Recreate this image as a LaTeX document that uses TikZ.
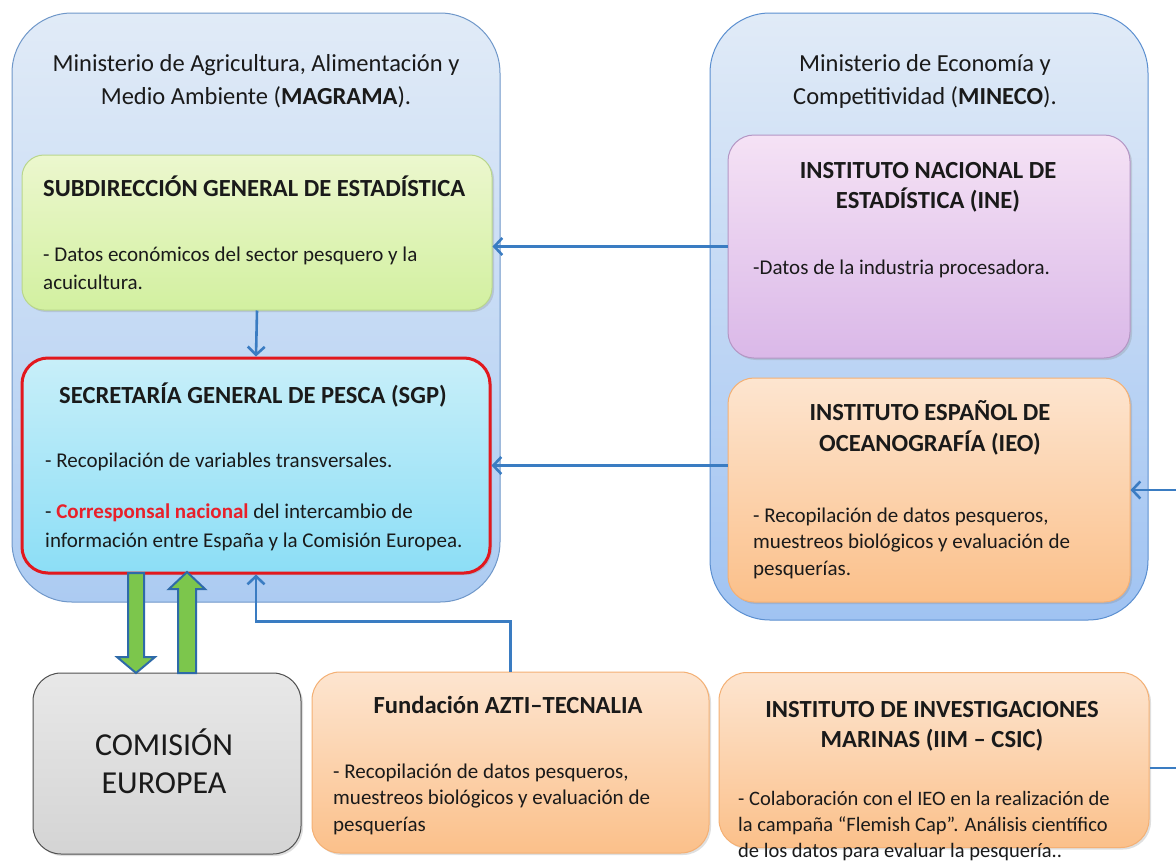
\documentclass[tikz,border=0pt]{standalone}
\usepackage{fontspec}
\setmainfont{Carlito}
\usetikzlibrary{arrows.meta,shadows,calc}
\definecolor{connblue}{HTML}{3A7CC2}
\definecolor{fatgreen}{HTML}{7CC64C}
\definecolor{fatedge}{HTML}{2E6AA8}
\definecolor{txt}{HTML}{1A1A1A}
\definecolor{redtxt}{HTML}{E8202A}
\definecolor{magedge}{HTML}{6F97C9}
\definecolor{mineedge}{HTML}{5B8FD0}
\definecolor{mintop}{RGB}{225,235,247}
\definecolor{magbot}{RGB}{172,203,242}
\definecolor{minebot}{RGB}{160,195,242}
\definecolor{gredge}{RGB}{185,214,140}
\definecolor{grtop}{RGB}{236,247,206}
\definecolor{grbot}{RGB}{210,240,160}
\definecolor{sgpedge}{RGB}{226,24,30}
\definecolor{sgptop}{RGB}{200,239,249}
\definecolor{sgpbot}{RGB}{140,222,246}
\definecolor{ineedge}{RGB}{180,150,196}
\definecolor{inetop}{RGB}{245,226,245}
\definecolor{inebot}{RGB}{218,184,232}
\definecolor{oredge}{RGB}{244,176,116}
\definecolor{ortop}{RGB}{253,229,208}
\definecolor{orbot}{RGB}{251,192,138}
\definecolor{gyedge}{RGB}{80,80,80}
\definecolor{gytop}{RGB}{232,232,232}
\definecolor{gybot}{RGB}{212,212,212}
\begin{document}
\begin{tikzpicture}[x=1pt,y=-1pt,
  box/.style={rounded corners=#1, inner sep=0pt, line width=1pt},
  box/.default=24pt,
  shade/.style={drop shadow={shadow xshift=2pt, shadow yshift=-2pt, opacity=0.25}},
  orange/.style={box=28pt, shade, draw=oredge, top color=ortop, bottom color=orbot},
  title/.style={font=\fontsize{24.5}{33}\selectfont, align=center, inner sep=0pt, text=txt},
  hd/.style={font=\bfseries\fontsize{24.6}{31}\selectfont, align=center, inner sep=0pt, text=txt},
  bd/.style={font=\fontsize{21}{26.5}\selectfont, align=left, inner sep=0pt, text=txt},
  conn/.style={draw=connblue, line width=2.6pt, -{Straight Barb[length=8pt,width=17pt,line width=2.6pt]}},
  fat/.style={fill=fatgreen, draw=fatedge, line width=2pt, line join=miter}
]
\useasboundingbox (0,0) rectangle (1176,865);
\clip (0,0) rectangle (1176,865);
\fill[white] (0,0) rectangle (1176,865);

% outer ministry boxes
\node[box=60pt, draw=magedge, top color=mintop, bottom color=magbot, minimum width=488pt, minimum height=589pt] (mag) at (256,307.5) {};
\node[box=60pt, draw=mineedge, top color=mintop, bottom color=minebot, minimum width=438pt, minimum height=607pt] (mine) at (929,316.5) {};

% inner boxes
\node[box=22pt, shade, draw=gredge, top color=grtop, bottom color=grbot, minimum width=470pt, minimum height=155pt] (green) at (257,232.5) {};
\node[box=26pt, shade, draw=sgpedge, line width=3pt, top color=sgptop, bottom color=sgpbot, minimum width=468pt, minimum height=215pt] (sgp) at (256,465.5) {};
\node[box=26pt, shade, draw=ineedge, top color=inetop, bottom color=inebot, minimum width=402pt, minimum height=223pt] (ine) at (929,246.5) {};
\node[orange, box=26pt, minimum width=402pt, minimum height=224pt] (ieo) at (929,490) {};
\node[box=28pt, shade, draw=gyedge, top color=gytop, bottom color=gybot, minimum width=268pt, minimum height=181pt] (com) at (167,763.5) {};
\node[orange, minimum width=397pt, minimum height=181pt] (azti) at (510.5,762.5) {};
\node[orange, minimum width=430pt, minimum height=175pt] (iim) at (934,760) {};

% texts (multi-line nodes: anchor base = baseline of last line)
\node[title, anchor=base] (tmag) at (256,104) {Ministerio de Agricultura, Alimentación y\\Medio Ambiente (\textbf{MAGRAMA}).};
\node[title, anchor=base] (tmine) at (925,104) {Ministerio de Economía y\\Competitividad (\textbf{MINECO}).};

\node[hd, anchor=base west] (hgreen) at (43,196) {SUBDIRECCIÓN GENERAL DE ESTADÍSTICA};
\node[bd, anchor=base west, font=\fontsize{21}{27.5}\selectfont] (bgreen) at (43,289) {- Datos económicos del sector pesquero y la\\acuicultura.};

\node[hd, anchor=base] (hsgp) at (253,403) {SECRETARÍA GENERAL DE PESCA (SGP)};
\node[bd, anchor=base west] (bsgp1) at (45,467) {- Recopilación de variables transversales.};
\node[bd, anchor=base west, font=\fontsize{21}{29}\selectfont] (bsgp2) at (45,547) {- \textcolor{redtxt}{\textbf{Corresponsal nacional}} del intercambio de\\información entre España y la Comisión Europea.};

\node[hd, anchor=base, font=\bfseries\fontsize{24.6}{30}\selectfont] (hine) at (928,208) {INSTITUTO NACIONAL DE\\ESTADÍSTICA (INE)};
\node[bd, anchor=base west] (bine) at (753,274) {-Datos de la industria procesadora.};

\node[hd, anchor=base] (hieo) at (930,451) {INSTITUTO ESPAÑOL DE\\OCEANOGRAFÍA (IEO)};
\node[bd, anchor=base west] (bieo) at (753,575) {- Recopilación de datos pesqueros,\\muestreos biológicos y evaluación de\\pesquerías.};

\node[font=\fontsize{32}{38}\selectfont, align=center, inner sep=0pt, text=txt, anchor=base] (tcom) at (164,793) {COMISIÓN\\EUROPEA};

\node[hd, anchor=base] (hazti) at (508,713) {Fundación AZTI–TECNALIA};
\node[bd, anchor=base west] (bazti) at (333,831) {- Recopilación de datos pesqueros,\\muestreos biológicos y evaluación de\\pesquerías};

\node[hd, anchor=base, font=\bfseries\fontsize{24.6}{30}\selectfont] (hiim) at (932,747) {INSTITUTO DE INVESTIGACIONES\\MARINAS (IIM – CSIC)};
\node[bd, anchor=base west, font=\fontsize{20.5}{26}\selectfont] (biim) at (738,857) {- Colaboración con el IEO en la realización de\\la campaña “Flemish Cap”. Análisis científico\\de los datos para evaluar la pesquería..};

% connectors
\draw[conn] (ine.west) -- (ine.west -| green.east);
\draw[conn] (green.south) -- (sgp.north);
\draw[conn] (ieo.west |- sgp.east) -- (sgp.east);
\draw[conn] (azti.north) -- ++(0,-50) -| (sgp.south);
\draw[conn] ([yshift=-8pt]iim.east) -- ++(60,0) |- (ieo.east);

% fat arrows between SGP and Comisión
\draw[fat] (128,573) -- (144,573) -- (144,657) -- (155,657) -- (136,673) -- (117,657) -- (128,657) -- cycle;
\draw[fat] (178,673) -- (196,673) -- (196,589) -- (205,589) -- (187,572) -- (169,589) -- (178,589) -- cycle;
\end{tikzpicture}
\end{document}
